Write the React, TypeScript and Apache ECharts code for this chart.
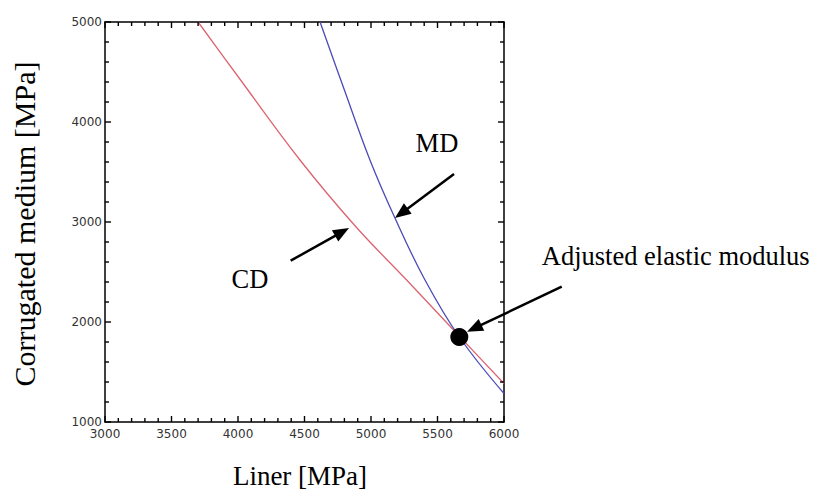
import React, { useEffect, useRef } from "react";
import * as echarts from "echarts";

// CD curve (red)
const cdX = [3700, 4000, 4466, 4888, 5268, 5670, 6000];
const cdY = [5000, 4455, 3620, 2950, 2420, 1850, 1385];
// MD curve (blue)
const mdX = [4617, 4800, 4992, 5180, 5406, 5664, 6000];
const mdY = [5000, 4320, 3620, 3040, 2420, 1850, 1285];
// Adjusted elastic modulus point
const adjX = [5664];
const adjY = [1850];

// Axis settings
const xMin = 3000, xMax = 6000, xMajor = 500, xMinor = 100;
const yMin = 1000, yMax = 5000, yMajor = 1000, yMinor = 200;

// Annotation arrows (data coordinates): tail -> tip
const arrowTails = [
  [5624, 3480],
  [4396, 2613],
  [6434, 2353],
];
const arrowTips = [
  [5180, 3040],
  [4835, 2940],
  [5722, 1903],
];
const labelTexts = ["MD", "CD", "Adjusted elastic modulus"];
const labelAnchors = [
  [5496, 3790],
  [4090, 2430],
  [6284, 2660],
];
const labelAligns = ["center", "center", "left"];

const serif = '"Liberation Serif", "Times New Roman", serif';
const tickFont = '"DejaVu Sans", sans-serif';

export default function App() {
  const ref = useRef<HTMLDivElement>(null);
  useEffect(() => {
    if (!ref.current) return;
    const chart = echarts.init(ref.current, null, { renderer: "svg" });
    const majorAxis = {
      type: "value" as const,
      axisLine: { show: true, onZero: false, lineStyle: { color: "#000", width: 1.5 } },
      axisTick: { show: false },
      splitLine: { show: false },
    };
    const labelStyle = {
      color: "#333",
      fontSize: 12,
      fontFamily: tickFont,
      formatter: (v: number) => String(v),
    };
    chart.setOption({
      animation: false,
      backgroundColor: "#fff",
      grid: { left: 105, top: 22, width: 399, height: 400, containLabel: false },
      xAxis: [
        { ...majorAxis, position: "bottom", min: xMin, max: xMax, interval: xMajor, axisLabel: { ...labelStyle, margin: 6 } },
        { ...majorAxis, position: "top", min: xMin, max: xMax, interval: xMajor, axisLabel: { show: false } },
      ],
      yAxis: [
        { ...majorAxis, position: "left", min: yMin, max: yMax, interval: yMajor, axisLabel: { ...labelStyle, margin: 3 } },
        { ...majorAxis, position: "right", min: yMin, max: yMax, interval: yMajor, axisLabel: { show: false } },
      ],
      series: [
        {
          type: "line",
          name: "CD",
          data: cdX.map((x, i) => [x, cdY[i]]),
          smooth: 0.4,
          showSymbol: false,
          lineStyle: { color: "#dc6470", width: 1.3 },
          z: 2,
        },
        {
          type: "line",
          name: "MD",
          data: mdX.map((x, i) => [x, mdY[i]]),
          smooth: 0.4,
          showSymbol: false,
          lineStyle: { color: "#4a4ab8", width: 1.3 },
          z: 3,
        },
        {
          type: "scatter",
          data: adjX.map((x, i) => [x, adjY[i]]),
          symbolSize: 18,
          itemStyle: { color: "#000", opacity: 1 },
          z: 5,
        },
      ],
    });

    const toPx = (p: number[]) => chart.convertToPixel({ xAxisIndex: 0, yAxisIndex: 0 }, p) as number[];
    const graphics: any[] = [];

    // Tick marks (inside, on all four sides)
    const bl = toPx([xMin, yMin]);
    const tr = toPx([xMax, yMax]);
    const tickStyle = { stroke: "#000", lineWidth: 1.4 };
    for (let v = xMin; v <= xMax; v += xMinor) {
      const px = toPx([v, yMin])[0];
      const len = v % xMajor === 0 ? 6 : 4;
      graphics.push({ type: "line", shape: { x1: px, y1: bl[1], x2: px, y2: bl[1] - len }, style: tickStyle, z: 8 });
      graphics.push({ type: "line", shape: { x1: px, y1: tr[1], x2: px, y2: tr[1] + len }, style: tickStyle, z: 8 });
    }
    for (let v = yMin; v <= yMax; v += yMinor) {
      const py = toPx([xMin, v])[1];
      const len = v % yMajor === 0 ? 6 : 4;
      graphics.push({ type: "line", shape: { x1: bl[0], y1: py, x2: bl[0] + len, y2: py }, style: tickStyle, z: 8 });
      graphics.push({ type: "line", shape: { x1: tr[0], y1: py, x2: tr[0] - len, y2: py }, style: tickStyle, z: 8 });
    }

    arrowTails.forEach((tailD, i) => {
      const t = toPx(tailD);
      const h = toPx(arrowTips[i]);
      const dx = h[0] - t[0];
      const dy = h[1] - t[1];
      const len = Math.sqrt(dx * dx + dy * dy);
      const ux = dx / len;
      const uy = dy / len;
      const L = 16;
      const W = 6.5;
      const bx = h[0] - ux * L;
      const by = h[1] - uy * L;
      graphics.push({
        type: "line",
        shape: { x1: t[0], y1: t[1], x2: bx + ux * 2, y2: by + uy * 2 },
        style: { stroke: "#000", lineWidth: 2.5 },
        z: 10,
      });
      graphics.push({
        type: "polygon",
        shape: {
          points: [
            [h[0], h[1]],
            [bx - uy * W, by + ux * W],
            [bx + uy * W, by - ux * W],
          ],
        },
        style: { fill: "#000" },
        z: 10,
      });
    });
    labelTexts.forEach((txt, i) => {
      const p = toPx(labelAnchors[i]);
      graphics.push({
        type: "text",
        x: p[0],
        y: p[1],
        style: {
          text: txt,
          fill: "#000",
          fontSize: 26.5,
          fontFamily: serif,
          align: labelAligns[i],
          verticalAlign: "middle",
        },
        z: 10,
      });
    });
    graphics.push({
      type: "text",
      x: 300,
      y: 476,
      style: { text: "Liner [MPa]", fill: "#000", fontSize: 27, fontFamily: serif, align: "center", verticalAlign: "middle" },
    });
    graphics.push({
      type: "text",
      x: 24,
      y: 224,
      rotation: Math.PI / 2,
      style: { text: "Corrugated medium [MPa]", fill: "#000", fontSize: 30, fontFamily: serif, align: "center", verticalAlign: "middle" },
    });
    chart.setOption({ graphic: graphics });

    return () => chart.dispose();
  }, []);
  return <div ref={ref} style={{ position: "fixed", left: 0, top: 0, width: 825, height: 493 }} />;
}
